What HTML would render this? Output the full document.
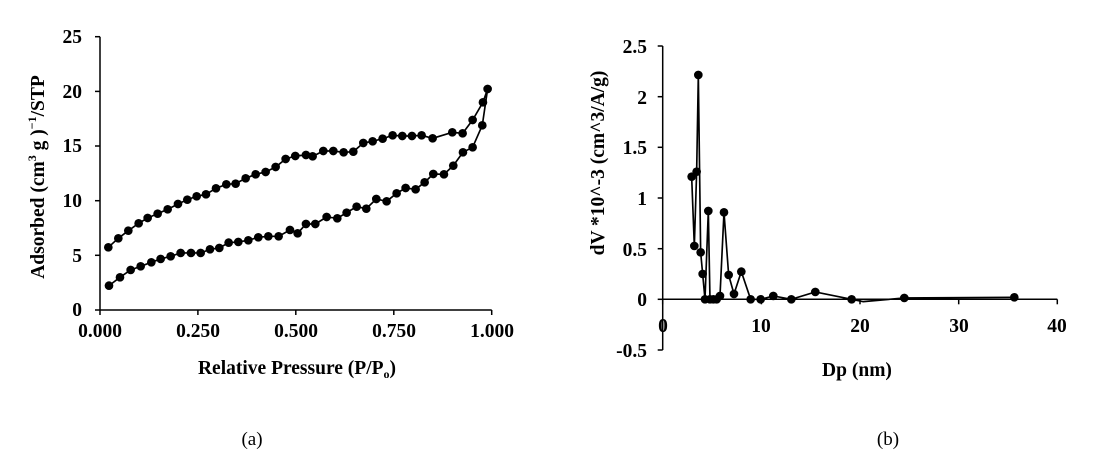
<!DOCTYPE html>
<html><head><meta charset="utf-8"><style>
html,body{margin:0;padding:0;background:#fff;}
svg{display:block;font-family:"Liberation Serif",serif;}
.t{font-weight:bold;font-size:19.5px;}
</style></head><body>
<svg width="1096" height="460" viewBox="0 0 1096 460" xmlns="http://www.w3.org/2000/svg">
<rect width="1096" height="460" fill="#fff"/>
<!-- Chart A -->
<g stroke="#000" stroke-width="1.5" fill="none">
<line x1="100" y1="36.7" x2="100" y2="310"/>
<line x1="100" y1="310" x2="491.7" y2="310"/>
<line x1="95" y1="36.7" x2="100" y2="36.7"/><line x1="95" y1="91.4" x2="100" y2="91.4"/><line x1="95" y1="146" x2="100" y2="146"/><line x1="95" y1="200.7" x2="100" y2="200.7"/><line x1="95" y1="255.3" x2="100" y2="255.3"/><line x1="95" y1="310" x2="100" y2="310"/>
<line x1="100" y1="310" x2="100" y2="315"/><line x1="197.9" y1="310" x2="197.9" y2="315"/><line x1="295.8" y1="310" x2="295.8" y2="315"/><line x1="393.8" y1="310" x2="393.8" y2="315"/><line x1="491.7" y1="310" x2="491.7" y2="315"/>
</g>
<g class="t" text-anchor="end">
<text x="82" y="43">25</text><text x="82" y="98">20</text><text x="82" y="152">15</text><text x="82" y="207">10</text><text x="82" y="262">5</text><text x="82" y="316">0</text>
</g>
<g class="t" text-anchor="middle">
<text x="100" y="337">0.000</text><text x="198" y="337">0.250</text><text x="296" y="337">0.500</text><text x="394" y="337">0.750</text><text x="492" y="337">1.000</text>
<text x="297" y="374">Relative Pressure (P/P<tspan font-size="12" dy="4">o</tspan><tspan dy="-4">)</tspan></text>
<text transform="translate(44,177) rotate(-90)">Adsorbed (cm<tspan font-size="12" dy="-8">3</tspan><tspan dy="8"> g )</tspan><tspan font-size="12" dy="-8">−1</tspan><tspan dy="8">/STP</tspan></text>
</g>
<g transform="translate(0,20) scale(0.3333)">
<polyline fill="none" stroke="#000" stroke-width="5" points="327,797 360,772 392,750 422,739 454,727 482,717 512,709 542,699 573,699 602,699 630,688 658,684 686,668 715,666 745,661 775,652 805,649 836,649 870,630 893,640 918,612 946,612 980,591 1012,595 1040,578 1070,560 1099,566 1129,537 1160,544 1190,520 1217,504 1247,508 1274,487 1300,462 1332,463 1360,437 1389,397 1418,382 1447,316 1463,207 1449,247 1418,300 1388,340 1357,337 1298,355 1265,346 1236,348 1207,348 1178,346 1148,356 1118,364 1090,369 1060,395 1031,397 1000,393 970,393 938,409 918,405 886,408 857,417 827,441 797,456 767,463 737,475 707,491 679,493 648,505 618,523 590,529 562,539 534,552 503,568 473,581 443,594 416,610 385,632 355,655 325,682"/>
<g fill="#000">
<circle cx="327" cy="797" r="13"/><circle cx="360" cy="772" r="13"/><circle cx="392" cy="750" r="13"/><circle cx="422" cy="739" r="13"/><circle cx="454" cy="727" r="13"/><circle cx="482" cy="717" r="13"/><circle cx="512" cy="709" r="13"/><circle cx="542" cy="699" r="13"/><circle cx="573" cy="699" r="13"/><circle cx="602" cy="699" r="13"/><circle cx="630" cy="688" r="13"/><circle cx="658" cy="684" r="13"/><circle cx="686" cy="668" r="13"/><circle cx="715" cy="666" r="13"/><circle cx="745" cy="661" r="13"/><circle cx="775" cy="652" r="13"/><circle cx="805" cy="649" r="13"/><circle cx="836" cy="649" r="13"/><circle cx="870" cy="630" r="13"/><circle cx="893" cy="640" r="13"/><circle cx="918" cy="612" r="13"/><circle cx="946" cy="612" r="13"/><circle cx="980" cy="591" r="13"/><circle cx="1012" cy="595" r="13"/><circle cx="1040" cy="578" r="13"/><circle cx="1070" cy="560" r="13"/><circle cx="1099" cy="566" r="13"/><circle cx="1129" cy="537" r="13"/><circle cx="1160" cy="544" r="13"/><circle cx="1190" cy="520" r="13"/><circle cx="1217" cy="504" r="13"/><circle cx="1247" cy="508" r="13"/><circle cx="1274" cy="487" r="13"/><circle cx="1300" cy="462" r="13"/><circle cx="1332" cy="463" r="13"/><circle cx="1360" cy="437" r="13"/><circle cx="1389" cy="397" r="13"/><circle cx="1418" cy="382" r="13"/><circle cx="1447" cy="316" r="13"/><circle cx="1463" cy="207" r="13"/>
<circle cx="1449" cy="247" r="13"/><circle cx="1418" cy="300" r="13"/><circle cx="1388" cy="340" r="13"/><circle cx="1357" cy="337" r="13"/><circle cx="1298" cy="355" r="13"/><circle cx="1265" cy="346" r="13"/><circle cx="1236" cy="348" r="13"/><circle cx="1207" cy="348" r="13"/><circle cx="1178" cy="346" r="13"/><circle cx="1148" cy="356" r="13"/><circle cx="1118" cy="364" r="13"/><circle cx="1090" cy="369" r="13"/><circle cx="1060" cy="395" r="13"/><circle cx="1031" cy="397" r="13"/><circle cx="1000" cy="393" r="13"/><circle cx="970" cy="393" r="13"/><circle cx="938" cy="409" r="13"/><circle cx="918" cy="405" r="13"/><circle cx="886" cy="408" r="13"/><circle cx="857" cy="417" r="13"/><circle cx="827" cy="441" r="13"/><circle cx="797" cy="456" r="13"/><circle cx="767" cy="463" r="13"/><circle cx="737" cy="475" r="13"/><circle cx="707" cy="491" r="13"/><circle cx="679" cy="493" r="13"/><circle cx="648" cy="505" r="13"/><circle cx="618" cy="523" r="13"/><circle cx="590" cy="529" r="13"/><circle cx="562" cy="539" r="13"/><circle cx="534" cy="552" r="13"/><circle cx="503" cy="568" r="13"/><circle cx="473" cy="581" r="13"/><circle cx="443" cy="594" r="13"/><circle cx="416" cy="610" r="13"/><circle cx="385" cy="632" r="13"/><circle cx="355" cy="655" r="13"/><circle cx="325" cy="682" r="13"/>
</g></g>

<!-- Chart B -->
<g stroke="#000" stroke-width="1.5" fill="none">
<line x1="662.7" y1="46" x2="662.7" y2="350"/>
<line x1="662.7" y1="299.3" x2="1057.3" y2="299.3"/>
<line x1="657.7" y1="46" x2="662.7" y2="46"/><line x1="657.7" y1="96.7" x2="662.7" y2="96.7"/><line x1="657.7" y1="147.3" x2="662.7" y2="147.3"/><line x1="657.7" y1="198" x2="662.7" y2="198"/><line x1="657.7" y1="248.7" x2="662.7" y2="248.7"/><line x1="657.7" y1="299.3" x2="662.7" y2="299.3"/><line x1="657.7" y1="350" x2="662.7" y2="350"/>
<line x1="662.7" y1="299.3" x2="662.7" y2="304.3"/><line x1="761.4" y1="299.3" x2="761.4" y2="304.3"/><line x1="860" y1="299.3" x2="860" y2="304.3"/><line x1="958.7" y1="299.3" x2="958.7" y2="304.3"/><line x1="1057.3" y1="299.3" x2="1057.3" y2="304.3"/>
</g>
<g class="t" text-anchor="end">
<text x="647" y="53">2.5</text><text x="647" y="104">2</text><text x="647" y="154">1.5</text><text x="647" y="205">1</text><text x="647" y="256">0.5</text><text x="647" y="306">0</text><text x="647" y="357">-0.5</text>
</g>
<g class="t" text-anchor="middle">
<text x="663" y="332">0</text><text x="761" y="332">10</text><text x="860" y="332">20</text><text x="959" y="332">30</text><text x="1057" y="332">40</text>
<text x="857" y="376">Dp (nm)</text>
<text transform="translate(604,163) rotate(-90)">dV *10^-3 (cm^3/A/g)</text>
</g>
<g transform="translate(580,20) scale(0.3333)">
<polyline fill="none" stroke="#000" stroke-width="5" points="335,470 343,678 350,455 355,165 362,697 368,762 375,838 385,573 390,838 400,838 410,838 420,828 432,577 446,765 462,822 484,755 512,838 542,838 580,828 634,838 706,816 815,838 850,845 973,834 1303,832"/>
<g fill="#000">
<circle cx="335" cy="470" r="13"/><circle cx="343" cy="678" r="13"/><circle cx="350" cy="455" r="13"/><circle cx="355" cy="165" r="13"/><circle cx="362" cy="697" r="13"/><circle cx="368" cy="762" r="13"/><circle cx="375" cy="838" r="13"/><circle cx="385" cy="573" r="13"/><circle cx="390" cy="838" r="13"/><circle cx="400" cy="838" r="13"/><circle cx="410" cy="838" r="13"/><circle cx="420" cy="828" r="13"/><circle cx="432" cy="577" r="13"/><circle cx="446" cy="765" r="13"/><circle cx="462" cy="822" r="13"/><circle cx="484" cy="755" r="13"/><circle cx="512" cy="838" r="13"/><circle cx="542" cy="838" r="13"/><circle cx="580" cy="828" r="13"/><circle cx="634" cy="838" r="13"/><circle cx="706" cy="816" r="13"/><circle cx="815" cy="838" r="13"/><circle cx="973" cy="834" r="13"/><circle cx="1303" cy="832" r="13"/>
</g></g>

<text x="252" y="445" font-size="19" text-anchor="middle">(a)</text>
<text x="888" y="445" font-size="19" text-anchor="middle">(b)</text>
</svg>
</body></html>
